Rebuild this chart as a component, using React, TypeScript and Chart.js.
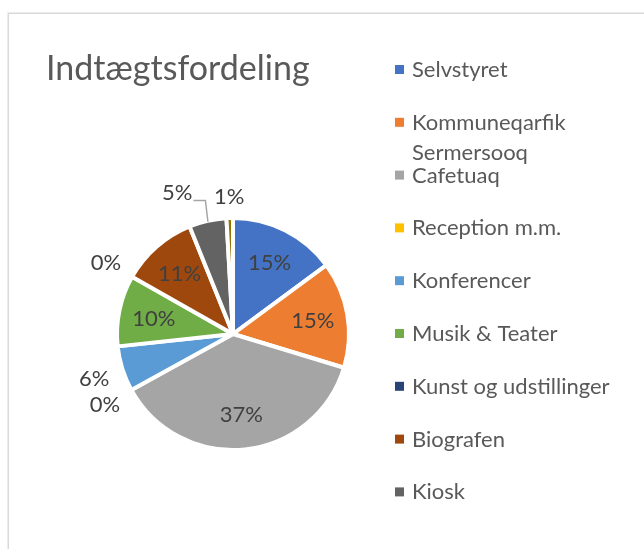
import React, { useEffect, useRef } from "react";
import { Chart, registerables } from "chart.js";

Chart.register(...registerables);

// ---- data ----
const chartTitle = "Indtægtsfordeling";
const categories = [
  "Selvstyret",
  "Kommuneqarfik Sermersooq",
  "Cafetuaq",
  "Reception m.m.",
  "Konferencer",
  "Musik & Teater",
  "Kunst og udstillinger",
  "Biografen",
  "Kiosk",
  "Andet",
];
const shares = [14.9, 14.8, 37.3, 0, 6.3, 9.9, 0, 10.7, 5.2, 0.9];
const sliceColors = [
  "#4472C4",
  "#ED7D31",
  "#A5A5A5",
  "#FFC000",
  "#5B9BD5",
  "#70AD47",
  "#264478",
  "#9E480E",
  "#636363",
  "#997300",
];
const legendCount = 9; // only the first nine fit in the legend

// ---- styling ----
const FONT = "Lato, 'Open Sans', sans-serif";
const BORDER = 4;
const labelNudges: Record<number, { dx: number; dy: number }> = {
  8: { dx: -25, dy: -4 },
};

const framePlugin = {
  id: "frameAndTitle",
  beforeDraw(chart: any) {
    const ctx = chart.ctx;
    ctx.save();
    ctx.fillStyle = "#ffffff";
    ctx.fillRect(0, 0, chart.width, chart.height);
    ctx.strokeStyle = "#d9d9d9";
    ctx.lineWidth = 1.5;
    ctx.strokeRect(8.25, 13.25, chart.width + 20, chart.height + 20);
    ctx.fillStyle = "#595959";
    ctx.font = `34px ${FONT}`;
    ctx.textBaseline = "alphabetic";
    ctx.textAlign = "left";
    ctx.fillText(chartTitle, 46, 80);
    ctx.restore();
  },
};

const legendPlugin = {
  id: "sideLegend",
  afterDraw(chart: any) {
    const ctx = chart.ctx;
    ctx.save();
    ctx.font = `22px ${FONT}`;
    ctx.textBaseline = "alphabetic";
    ctx.textAlign = "left";
    const maxW = 215;
    for (let i = 0; i < Math.min(legendCount, categories.length); i++) {
      const cy = 69.5 + i * 52.8;
      ctx.fillStyle = sliceColors[i];
      ctx.fillRect(395, cy - 4.5, 9, 9);
      ctx.fillStyle = "#595959";
      const words = categories[i].split(" ");
      const lines: string[] = [];
      let cur = "";
      for (const w of words) {
        const test = cur ? cur + " " + w : w;
        if (ctx.measureText(test).width > maxW && cur) {
          lines.push(cur);
          cur = w;
        } else cur = test;
      }
      if (cur) lines.push(cur);
      lines.forEach((ln, k) => ctx.fillText(ln, 412, cy + 7.5 + k * 30));
    }
    ctx.restore();
  },
};

const labelPlugin = {
  id: "pieLabels",
  afterDatasetsDraw(chart: any) {
    const ctx = chart.ctx;
    const meta = chart.getDatasetMeta(0);
    const values = chart.data.datasets[0].data as number[];
    const total = values.reduce((a, b) => a + b, 0);
    ctx.save();
    const size = 22;
    ctx.font = `${size}px ${FONT}`;
    ctx.textAlign = "left";
    ctx.textBaseline = "alphabetic";
    const h = 0.72 * size;
    meta.data.forEach((arc: any, i: number) => {
      const { x, y, startAngle, endAngle, outerRadius } = arc.getProps(
        ["x", "y", "startAngle", "endAngle", "outerRadius"],
        true
      );
      const R = outerRadius - BORDER / 2;
      const mid = (startAngle + endAngle) / 2;
      const dx = Math.cos(mid);
      const dy = Math.sin(mid);
      const txt = Math.round((values[i] / total) * 100) + "%";
      const w = ctx.measureText(txt).width;
      let cx: number, cy: number;
      if (values[i] >= 8) {
        cx = x + dx * R * 0.71;
        cy = y + dy * R * 0.71;
      } else {
        const off = (w / 2) * Math.abs(dx) + (h / 2 + 2) * Math.abs(dy);
        const d = R + 14 + off;
        cx = x + dx * d;
        cy = y + dy * d;
      }
      const nudge = labelNudges[i];
      if (nudge) {
        cx += nudge.dx;
        cy += nudge.dy;
        const ex = x + dx * (R + 1);
        const ey = y + dy * (R + 1);
        const ly = cy + 8;
        ctx.strokeStyle = "#a6a6a6";
        ctx.lineWidth = 1.5;
        ctx.beginPath();
        ctx.moveTo(cx + w / 2 + 1, ly);
        ctx.lineTo(ex - 2.5, ly);
        ctx.lineTo(ex, ey);
        ctx.stroke();
      }
      ctx.fillStyle = "#404040";
      ctx.fillText(txt, cx - w / 2, cy + h / 2);
    });
    ctx.restore();
  },
};

export default function App() {
  const ref = useRef<HTMLCanvasElement | null>(null);
  useEffect(() => {
    if (!ref.current) return;
    const chart = new Chart(ref.current, {
      type: "pie",
      data: {
        labels: categories,
        datasets: [
          {
            data: shares,
            backgroundColor: sliceColors,
            borderColor: "#ffffff",
            borderWidth: BORDER,
          },
        ],
      },
      options: {
        responsive: false,
        animation: false,
        devicePixelRatio: 1,
        radius: 116,
        layout: { padding: { left: 113, right: 291, top: 214, bottom: 95 } },
        plugins: {
          legend: { display: false },
          tooltip: { enabled: false },
          title: { display: false },
        },
      } as any,
      plugins: [framePlugin, labelPlugin, legendPlugin],
    });
    return () => chart.destroy();
  }, []);
  return (
    <div style={{ position: "fixed", left: 0, top: 0, width: 644, height: 549, background: "#fff" }}>
      <canvas ref={ref} width={644} height={549} style={{ display: "block" }} />
    </div>
  );
}
